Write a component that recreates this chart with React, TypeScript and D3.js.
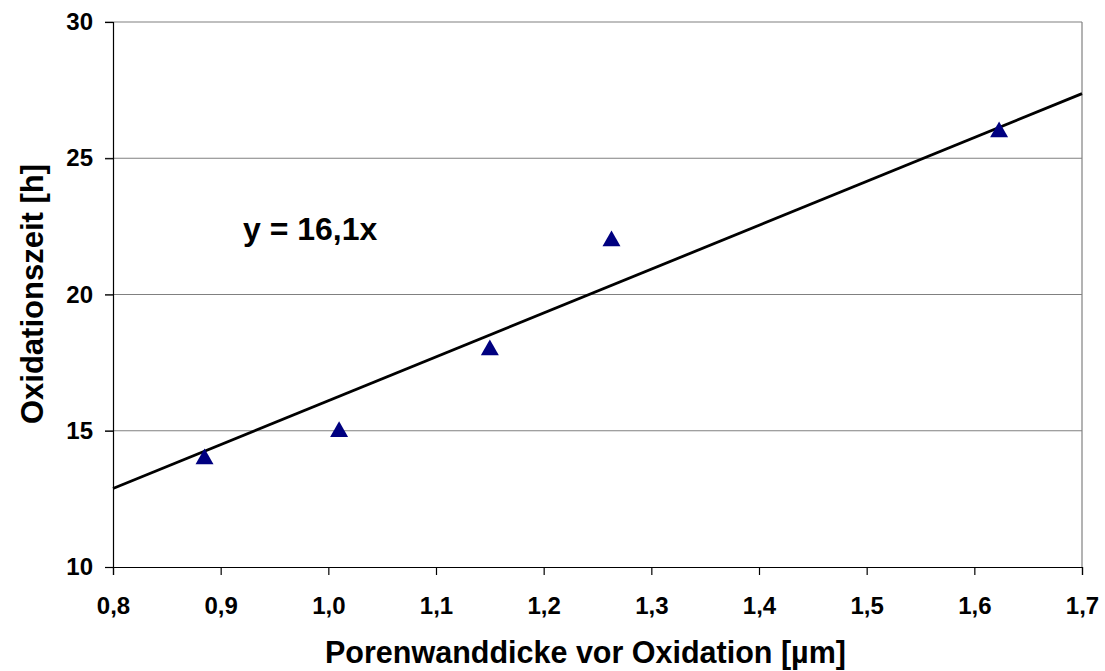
import React, { useEffect, useRef } from 'react';
import * as d3 from 'd3';

const wallThickness = [0.885, 1.01, 1.15, 1.263, 1.623];
const oxidationTime = [14, 15, 18, 22, 26];
const xTicks = [0.8, 0.9, 1.0, 1.1, 1.2, 1.3, 1.4, 1.5, 1.6, 1.7];
const yTicks = [10, 15, 20, 25, 30];
const slope = 16.1;

const W = 1105;
const H = 671;
const margin = { top: 22, right: 23, bottom: 104, left: 113 };
const FONT = '"Liberation Sans", Arial, sans-serif';

const fmt = (v: number) => v.toFixed(1).replace('.', ',');

function App() {
  const ref = useRef<SVGSVGElement>(null);

  useEffect(() => {
    const svg = d3.select(ref.current);
    svg.selectAll('*').remove();

    const x = d3.scaleLinear().domain([0.8, 1.7]).range([margin.left, W - margin.right]);
    const y = d3.scaleLinear().domain([10, 30]).range([H - margin.bottom, margin.top]);

    // grid lines
    svg.append('g')
      .selectAll('line')
      .data(yTicks.filter(d => d > 10))
      .join('line')
      .attr('x1', margin.left - 8)
      .attr('x2', W - margin.right)
      .attr('y1', d => y(d))
      .attr('y2', d => y(d))
      .attr('stroke', '#808080')
      .attr('stroke-width', 1.2);

    // right border
    svg.append('line')
      .attr('x1', W - margin.right).attr('x2', W - margin.right)
      .attr('y1', margin.top).attr('y2', H - margin.bottom)
      .attr('stroke', '#808080').attr('stroke-width', 1.2);

    // y axis
    const yAxis = svg.append('g')
      .attr('transform', `translate(${margin.left},0)`)
      .call(d3.axisLeft(y).tickValues(yTicks).tickSize(8).tickPadding(12).tickFormat(d => String(d)));
    yAxis.select('.domain').attr('stroke', '#000').attr('stroke-width', 1.2);
    yAxis.selectAll('.tick line').attr('stroke', '#000').attr('stroke-width', 1.2);
    yAxis.selectAll('text')
      .attr('font-family', FONT).attr('font-weight', 'bold').attr('font-size', 24).attr('fill', '#000');

    // x axis
    const xAxis = svg.append('g')
      .attr('transform', `translate(0,${H - margin.bottom})`)
      .call(d3.axisBottom(x).tickValues(xTicks).tickSize(8).tickPadding(22).tickFormat(d => fmt(d as number)));
    xAxis.select('.domain').attr('stroke', '#000').attr('stroke-width', 1.2);
    xAxis.selectAll('.tick line').attr('stroke', '#000').attr('stroke-width', 1.2);
    xAxis.selectAll('text')
      .attr('font-family', FONT).attr('font-weight', 'bold').attr('font-size', 24).attr('fill', '#000');

    // trend line y = 16,1x
    const line = d3.line<number>().x(d => x(d)).y(d => y(slope * d));
    svg.append('path')
      .datum([0.8, 1.7])
      .attr('d', line)
      .attr('fill', 'none')
      .attr('stroke', '#000')
      .attr('stroke-width', 2.8);

    // data points
    const tri = d3.symbol().type(d3.symbolTriangle).size(140);
    svg.append('g')
      .selectAll('path')
      .data(wallThickness.map((v, i) => [v, oxidationTime[i]]))
      .join('path')
      .attr('d', tri)
      .attr('transform', d => `translate(${x(d[0])},${y(d[1]) + 1})`)
      .attr('fill', '#000080');

    // equation
    svg.append('text')
      .attr('x', 243).attr('y', 240)
      .attr('font-family', FONT).attr('font-weight', 'bold').attr('font-size', 32)
      .text('y = 16,1x');

    // axis titles
    svg.append('text')
      .attr('x', 585.5)
      .attr('y', 663)
      .attr('text-anchor', 'middle')
      .attr('font-family', FONT).attr('font-weight', 'bold').attr('font-size', 30.5)
      .text('Porenwanddicke vor Oxidation [µm]');

    svg.append('text')
      .attr('transform', `translate(43,294) rotate(-90)`)
      .attr('text-anchor', 'middle')
      .attr('font-family', FONT).attr('font-weight', 'bold').attr('font-size', 31)
      .text('Oxidationszeit [h]');
  }, []);

  return (
    <svg ref={ref} width={W} height={H} style={{ position: 'absolute', left: 0, top: 0, background: '#fff' }} />
  );
}

export default App;
